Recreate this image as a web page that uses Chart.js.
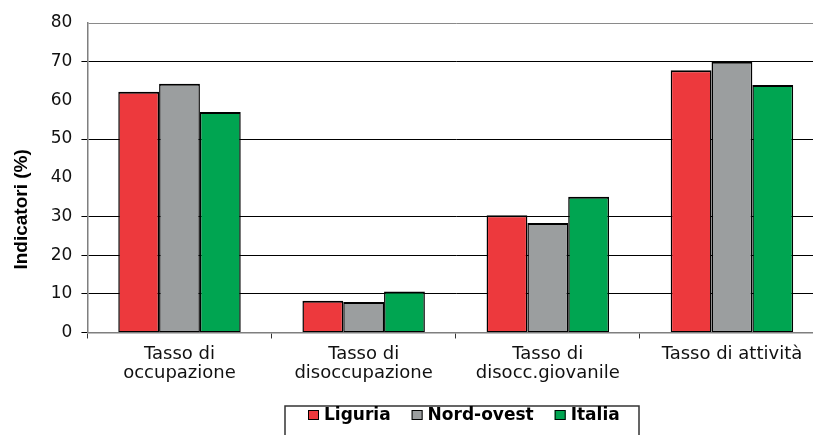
<!DOCTYPE html>
<html lang="it">
<head>
<meta charset="utf-8">
<title>Indicatori del mercato del lavoro</title>
<script src="https://cdn.jsdelivr.net/npm/chart.js@4/dist/chart.umd.min.js"></script>
<style>
    html, body { margin: 0; padding: 0; background: #fff; overflow: hidden; }
    .chart-box { position: relative; width: 840px; height: 435px; }
</style>
</head>
<body>
<div class="chart-box"><canvas id="lavoroChart"></canvas></div>
<script>
/* data */
const categories = [['Tasso di', 'occupazione'], ['Tasso di', 'disoccupazione'], ['Tasso di', 'disocc.giovanile'], 'Tasso di attività'];
const seriesNames = ['Liguria', 'Nord-ovest', 'Italia'];
const liguria = [62.2, 8.2, 30.3, 67.8];
const nordOvest = [64.3, 7.9, 28.3, 70.0];
const italia = [57.0, 10.6, 35.1, 64.0];
const yMin = 0, yMax = 80, yStep = 10;

const colors = ['#ED393D', '#9B9E9F', '#00A551'];
const hiddenLines = [40, 60];

// legend with a frame, drawn after the chart
const framedLegend = {
    id: 'framedLegend',
    afterDraw(chart) {
        const ctx = chart.ctx;
        const box = { x: 285, y: 406, w: 354, h: 40 };
        ctx.save();
        ctx.strokeStyle = '#333';
        ctx.lineWidth = 1.5;
        ctx.strokeRect(box.x, box.y, box.w, box.h);
        ctx.font = 'bold 17px "DejaVu Sans"';
        ctx.textBaseline = 'middle';
        let x = box.x + 23;
        const cy = 415;
        chart.data.datasets.forEach(ds => {
            ctx.fillStyle = ds.backgroundColor;
            ctx.fillRect(x, cy - 5, 11, 10);
            ctx.lineWidth = 1;
            ctx.strokeStyle = '#000';
            ctx.strokeRect(x + 0.5, cy - 4.5, 10, 9);
            ctx.fillStyle = '#000';
            ctx.fillText(ds.label, x + 16, cy + 1);
            x += 16 + ctx.measureText(ds.label).width + 21;
        });
        ctx.restore();
    }
};

const ds = (label, data, color) => ({
    label, data, backgroundColor: color,
    borderColor: '#000', borderWidth: { top: 2, left: 1.5, right: 1.5, bottom: 1 }, borderSkipped: false
});

new Chart(document.getElementById('lavoroChart'), {
    type: 'bar',
    data: {
        labels: categories,
        datasets: [ds(seriesNames[0], liguria, colors[0]), ds(seriesNames[1], nordOvest, colors[1]), ds(seriesNames[2], italia, colors[2])]
    },
    options: {
        responsive: true, maintainAspectRatio: false, animation: false,
        layout: { padding: { top: 23, right: 16, bottom: 46, left: 0 } },
        datasets: { bar: { barPercentage: 1, categoryPercentage: 0.665 } },
        plugins: { legend: { display: false }, tooltip: { enabled: false } },
        scales: {
            x: {
                offset: true,
                grid: { offset: true, drawOnChartArea: false, drawTicks: true, tickLength: 6, color: '#333', lineWidth: 1 },
                border: { color: '#7f7f7f', width: 1.5 },
                ticks: { color: '#111', padding: 6, maxRotation: 0, autoSkip: false, font: { family: 'DejaVu Sans', size: 18, lineHeight: 1.07 } }
            },
            y: {
                min: yMin, max: yMax,
                ticks: { stepSize: yStep, color: '#111', padding: 9, font: { family: 'DejaVu Sans', size: 17 } },
                grid: {
                    tickLength: 6,
                    lineWidth: 1,
                    color: c => {
                        const v = c.tick ? c.tick.value : null;
                        if (v === yMax) return '#8a8a8a';
                        if (v === 0 || hiddenLines.includes(v)) return 'rgba(0,0,0,0)';
                        return '#000';
                    },
                    tickColor: c => {
                        const v = c.tick ? c.tick.value : null;
                        if (v === yMax || hiddenLines.includes(v)) return 'rgba(0,0,0,0)';
                        return '#000';
                    }
                },
                border: { color: '#7f7f7f', width: 1.5 },
                title: {
                    display: true,
                    text: 'Indicatori (%)            ',
                    color: '#000',
                    font: { family: 'Liberation Sans', size: 19, weight: 'bold' },
                    padding: { top: 10, bottom: 9 }
                }
            }
        }
    },
    plugins: [framedLegend]
});
</script>
</body>
</html>
